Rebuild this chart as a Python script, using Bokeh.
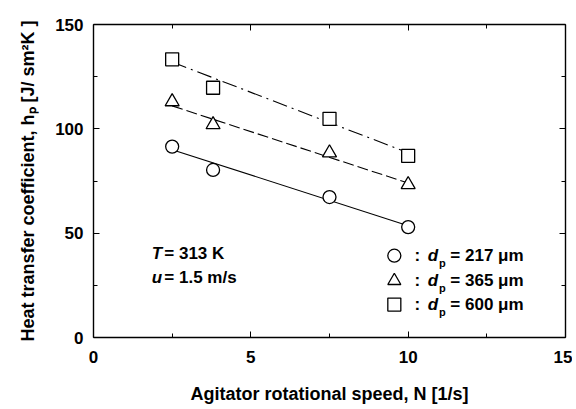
from bokeh.plotting import figure
from bokeh.models import LinearAxis, FixedTicker, Range1d
from bokeh.core.properties import value
from bokeh.embed import file_html
from bokeh.resources import INLINE

# ---- data ----
n_217 = [2.5, 3.8, 7.5, 10.0]
h_217 = [91.5, 80.3, 67.3, 52.9]
n_365 = [2.5, 3.8, 7.5, 10.0]
h_365 = [113.0, 102.0, 88.5, 73.3]
n_600 = [2.5, 3.8, 7.5, 10.0]
h_600 = [133.3, 119.7, 104.8, 87.0]

fit_n = [2.5, 10.0]
fit_217 = [90.0, 53.6]
fit_365 = [111.0, 74.0]
fit_600 = [132.0, 88.5]

x_ticks = [0, 5, 10, 15]
x_minor = [2.5, 7.5, 12.5]
y_ticks = [0, 50, 100, 150]
y_minor = [25, 75, 125]

legend_y = [39.2, 27.2, 15.8]
legend_sizes = ["217", "365", "600"]

FONT = "Liberation Sans"

p = figure(width=572, height=406, output_backend="svg", toolbar_location=None,
           x_range=Range1d(0, 15), y_range=Range1d(0, 150),
           min_border_left=93, min_border_right=7, min_border_top=24, min_border_bottom=69)
p.xgrid.visible = False
p.ygrid.visible = False
p.outline_line_color = None
p.background_fill_color = "white"
p.border_fill_color = "white"

def style_axis(ax, ticks, minor, labels=True):
    ax.ticker = FixedTicker(ticks=ticks, minor_ticks=minor)
    ax.axis_line_color = "black"
    ax.axis_line_width = 1.4
    ax.major_tick_in = 6
    ax.major_tick_out = 0
    ax.minor_tick_in = 4
    ax.minor_tick_out = 0
    ax.major_tick_line_color = "black"
    ax.minor_tick_line_color = "black"
    ax.major_label_text_font = FONT
    ax.major_label_text_font_style = "bold"
    ax.major_label_text_font_size = "17px"
    ax.major_label_text_color = "black" if labels else None
    ax.axis_label_text_font = FONT
    ax.axis_label_text_font_style = "bold"
    ax.axis_label_text_font_size = "18px"
    ax.axis_label_text_color = "black"

style_axis(p.xaxis[0], x_ticks, x_minor)
style_axis(p.yaxis[0], y_ticks, y_minor)
p.xaxis[0].major_label_standoff = 13
p.xaxis[0].axis_label = "Agitator rotational speed, N [1/s]"
p.xaxis[0].axis_label_standoff = 18
p.yaxis[0].major_label_standoff = 10
p.yaxis[0].axis_label = "Heat transfer coefficient, hₚ [J/ sm²K ]"
p.yaxis[0].axis_label_standoff = 14

top = LinearAxis()
right = LinearAxis()
style_axis(top, x_ticks, x_minor, labels=False)
style_axis(right, y_ticks, y_minor, labels=False)
p.add_layout(top, "above")
p.add_layout(right, "right")

# fit lines
p.line(fit_n, fit_217, line_color="black", line_width=1.1)
p.line(fit_n, fit_365, line_color="black", line_width=1.1, line_dash="11 4")
p.line(fit_n, fit_600, line_color="black", line_width=1.1, line_dash="15 5 2 5")

# markers
p.scatter(n_217, h_217, marker="circle", size=13, fill_color="white", line_color="black", line_width=1.3)
p.scatter(n_365, h_365, marker="triangle", size=14, fill_color="white", line_color="black", line_width=1.3)
p.scatter(n_600, h_600, marker="square", size=13, fill_color="white", line_color="black", line_width=1.3)

# conditions text
p.text(x=[1.85], y=[40.2], text=["T"], text_font=value(FONT), text_font_style="bold italic",
       text_font_size="17px", text_baseline="middle")
p.text(x=[2.25], y=[40.2], text=["= 313 K"], text_font=value(FONT), text_font_style="bold",
       text_font_size="17px", text_baseline="middle")
p.text(x=[1.85], y=[28.7], text=["u"], text_font=value(FONT), text_font_style="bold italic",
       text_font_size="17px", text_baseline="middle")
p.text(x=[2.25], y=[28.7], text=["= 1.5 m/s"], text_font=value(FONT), text_font_style="bold",
       text_font_size="17px", text_baseline="middle")

# manual legend
markers = ["circle", "triangle", "square"]
for m, yy, s in zip(markers, legend_y, legend_sizes):
    p.scatter([9.56], [yy], marker=m, size=13, fill_color="white", line_color="black", line_width=1.3)
    p.text(x=[10.2], y=[yy], text=[":"], text_font=value(FONT), text_font_style="bold",
           text_font_size="17px", text_baseline="middle")
    p.text(x=[10.62], y=[yy], text=["d"], text_font=value(FONT), text_font_style="bold italic",
           text_font_size="17px", text_baseline="middle")
    p.text(x=[10.98], y=[yy - 3.6], text=["p"], text_font=value(FONT), text_font_style="bold",
           text_font_size="11px", text_baseline="middle")
    p.text(x=[11.34], y=[yy], text=["= " + s + " μm"], text_font=value(FONT), text_font_style="bold",
           text_font_size="17px", text_baseline="middle")

open("out.html", "w").write(file_html(p, INLINE))
